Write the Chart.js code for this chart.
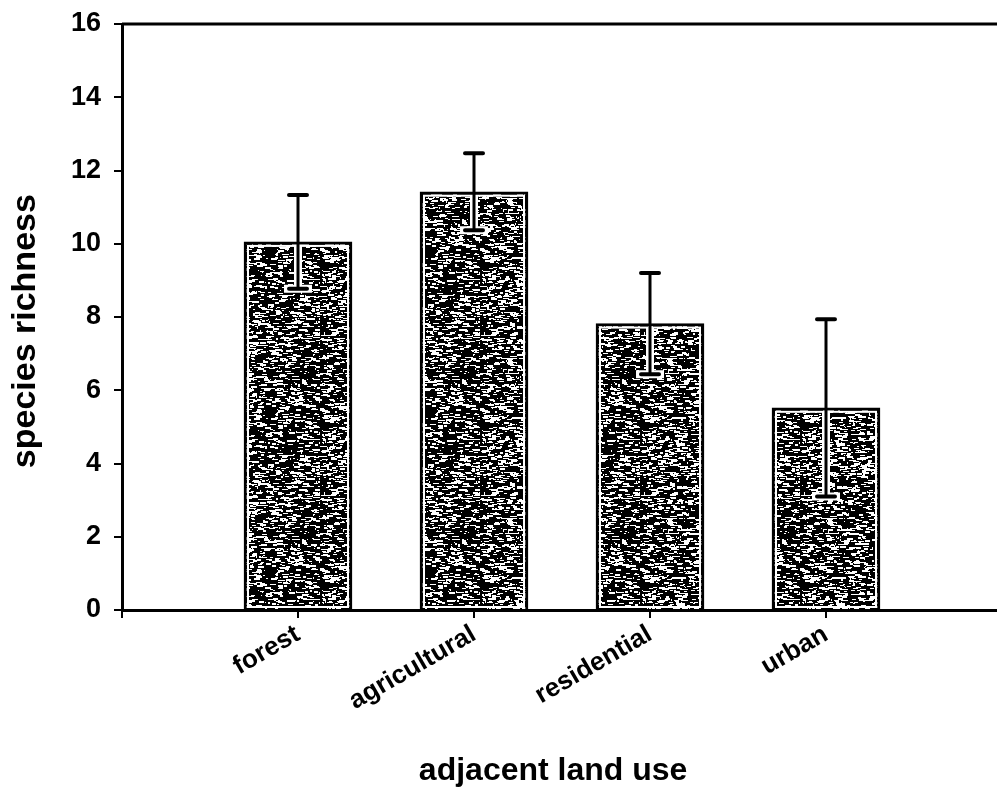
<!DOCTYPE html>
<html>
<head>
<meta charset="utf-8">
<title>species richness by adjacent land use</title>
<script src="https://cdn.jsdelivr.net/npm/chart.js@4.4.1/dist/chart.umd.min.js"></script>
<style>
  html, body { margin: 0; padding: 0; background: #fff; width: 997px; height: 790px; overflow: hidden; }
  #wrap { width: 997px; height: 790px; overflow: hidden; position: relative; }
  canvas { display: block; position: absolute; left: 0; top: 0; }
</style>
</head>
<body>
<div id="wrap">
  <canvas id="richnessChart" width="1010" height="790"></canvas>
</div>
<script>
// Mean species richness per adjacent land use, with error bar half-widths
const categories = ['forest', 'agricultural', 'residential', 'urban'];
const meanRichness = [10.05, 11.42, 7.82, 5.52];
const errorRichness = [1.28, 1.05, 1.38, 2.42];

const yMin = 0;
const yMax = 16;
const yStep = 2;

// blank slots on both ends so the bars sit on 1..4 of a 0..5 axis
const axisLabels = ['', ...categories, ''];
const barValues = [null, ...meanRichness, null];

const FONT = '"Liberation Sans", Arial, Helvetica, sans-serif';
const NBSP = '\u00a0';

// small deterministic PRNG for the grainy bar fill
function mulberry32(a) {
    return function() {
        a |= 0; a = a + 0x6D2B79F5 | 0;
        let t = Math.imul(a ^ a >>> 15, 1 | a);
        t = t + Math.imul(t ^ t >>> 7, 61 | t) ^ t;
        return ((t ^ t >>> 14) >>> 0) / 4294967296;
    };
}

function makeGrainPattern(ctx) {
    const size = 160;
    const tile = document.createElement('canvas');
    tile.width = size;
    tile.height = size;
    const g = tile.getContext('2d');
    g.fillStyle = '#000';
    g.fillRect(0, 0, size, size);
    const rnd = mulberry32(20240611);
    g.fillStyle = '#fff';
    for (let i = 0; i < 2200; i++) {
        const x = Math.floor(rnd() * size);
        const y = Math.floor(rnd() * size);
        const w = 1 + Math.floor(rnd() * 6);
        const h = rnd() < 0.35 ? 2 : 1;
        g.fillRect(x, y, w, h);
    }
    return ctx.createPattern(tile, 'repeat');
}

// top/right frame, white inner edge of each bar and the error bars
const frameAndErrors = {
    id: 'frameAndErrors',
    afterDatasetsDraw(chart) {
        const { ctx, chartArea, scales } = chart;
        const yScale = scales.y;
        const meta = chart.getDatasetMeta(0);

        ctx.save();
        ctx.strokeStyle = '#000';
        ctx.lineWidth = 3;
        ctx.beginPath();
        ctx.moveTo(chartArea.left, chartArea.top);
        ctx.lineTo(chartArea.right, chartArea.top);
        ctx.lineTo(chartArea.right, chartArea.bottom);
        ctx.stroke();

        meta.data.forEach((bar, i) => {
            const k = i - 1;
            if (k < 0 || k >= meanRichness.length) return;
            const { x, y, base, width } = bar.getProps(['x', 'y', 'base', 'width'], true);

            // thin white line just inside the black outline
            ctx.strokeStyle = '#fff';
            ctx.lineWidth = 2;
            ctx.strokeRect(x - width / 2 + 4, y + 4, width - 8, base - y - 6);

            const hi = yScale.getPixelForValue(meanRichness[k] + errorRichness[k]);
            const lo = yScale.getPixelForValue(meanRichness[k] - errorRichness[k]);

            // white halo where the bar sits behind the error bar
            ctx.lineCap = 'butt';
            ctx.lineWidth = 8;
            ctx.beginPath();
            ctx.moveTo(x, y + 4);
            ctx.lineTo(x, lo + 4);
            ctx.moveTo(x - 14, lo);
            ctx.lineTo(x + 14, lo);
            ctx.stroke();

            ctx.strokeStyle = '#000';
            ctx.lineWidth = 3;
            ctx.beginPath();
            ctx.moveTo(x, hi);
            ctx.lineTo(x, lo);
            ctx.stroke();

            ctx.lineWidth = 4;
            ctx.lineCap = 'round';
            ctx.beginPath();
            ctx.moveTo(x - 9, hi);
            ctx.lineTo(x + 9, hi);
            ctx.moveTo(x - 9, lo);
            ctx.lineTo(x + 9, lo);
            ctx.stroke();
        });
        ctx.restore();
    }
};

const canvas = document.getElementById('richnessChart');
const ctx = canvas.getContext('2d');

new Chart(ctx, {
    type: 'bar',
    data: {
        labels: axisLabels,
        datasets: [{
            data: barValues,
            backgroundColor: makeGrainPattern(ctx),
            borderColor: '#000',
            borderWidth: 3,
            borderSkipped: 'bottom',
            barThickness: 108
        }]
    },
    options: {
        responsive: false,
        devicePixelRatio: 1,
        animation: false,
        layout: { padding: { top: 24, right: 8, left: 0, bottom: 0 } },
        plugins: {
            legend: { display: false },
            tooltip: { enabled: false }
        },
        scales: {
            x: {
                type: 'category',
                offset: false,
                grid: {
                    offset: false,
                    drawOnChartArea: false,
                    drawTicks: true,
                    tickLength: 8,
                    color: '#000',
                    lineWidth: 2
                },
                border: { color: '#000', width: 3 },
                ticks: {
                    color: '#000',
                    autoSkip: false,
                    minRotation: 30,
                    maxRotation: 30,
                    padding: 1,
                    font: { family: FONT, size: 26, weight: 'bold' }
                },
                title: {
                    display: true,
                    // trailing spaces nudge the centred title a little left
                    text: 'adjacent land use' + NBSP + NBSP,
                    color: '#000',
                    padding: { top: 0, bottom: 0 },
                    font: { family: FONT, size: 32, weight: 'bold' }
                },
                afterFit(scale) {
                    scale.height = 180;
                    // keep the plot edges where the layout padding puts them
                    scale.paddingLeft = 0;
                    scale.paddingRight = 0;
                }
            },
            y: {
                min: yMin,
                max: yMax,
                grid: {
                    drawOnChartArea: false,
                    drawTicks: true,
                    tickLength: 8,
                    color: '#000',
                    lineWidth: 2
                },
                border: { color: '#000', width: 3 },
                ticks: {
                    stepSize: yStep,
                    color: '#000',
                    padding: 13,
                    font: { family: FONT, size: 27, weight: 'bold' }
                },
                title: {
                    display: true,
                    // trailing spaces push the rotated title slightly down
                    text: 'species richness' + NBSP + NBSP + NBSP,
                    color: '#000',
                    padding: { top: 5, bottom: 0 },
                    font: { family: FONT, size: 34, weight: 'bold' }
                },
                afterFit(scale) {
                    scale.width = 122;
                    scale.paddingTop = 0;
                    scale.paddingBottom = 0;
                }
            }
        }
    },
    plugins: [frameAndErrors]
});
</script>
</body>
</html>
